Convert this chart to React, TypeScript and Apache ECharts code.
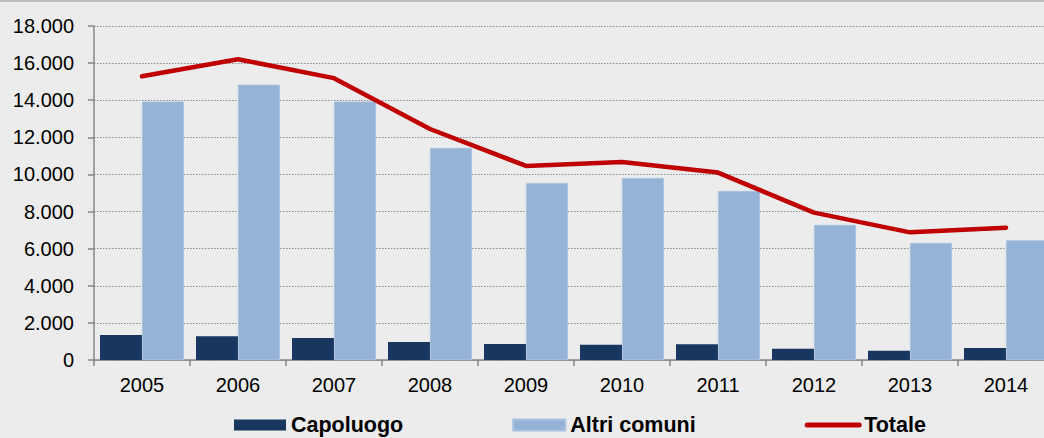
import React, { useEffect, useRef } from "react";
import * as echarts from "echarts";

const years = ["2005", "2006", "2007", "2008", "2009", "2010", "2011", "2012", "2013", "2014"];
const capoluogo = [1350, 1280, 1190, 970, 860, 825, 850, 610, 500, 650];
const altriComuni = [13930, 14840, 13930, 11430, 9540, 9810, 9110, 7280, 6310, 6450];
const totale = [15290, 16210, 15190, 12450, 10460, 10670, 10100, 7940, 6880, 7130];
const yTicks = { min: 0, max: 18000, interval: 2000 };

const FONT = "'Liberation Sans', Arial, sans-serif";

export default function App() {
  const ref = useRef<HTMLDivElement>(null);
  useEffect(() => {
    if (!ref.current) return;
    const chart = echarts.init(ref.current, undefined, { renderer: "svg" });
    chart.setOption({
      animation: false,
      backgroundColor: "#ececec",
      textStyle: { fontFamily: FONT },
      graphic: [
        {
          type: "rect",
          shape: { x: 0, y: 0, width: 1070, height: 2 },
          style: { fill: "#bcbcbc" },
          silent: true,
        },
      ],
      grid: { left: 94, right: 6, top: 26, bottom: 78, containLabel: false },
      legend: {
        left: 234,
        top: 414,
        padding: 0,
        itemGap: 109,
        itemWidth: 52,
        itemHeight: 11,
        textStyle: { fontFamily: FONT, fontSize: 21.5, fontWeight: "bold", color: "#000" },
        data: [
          { name: "Capoluogo", icon: "rect" },
          { name: "Altri comuni", icon: "rect" },
          {
            name: "Totale",
            itemStyle: { color: "rgba(0,0,0,0)", borderWidth: 0, opacity: 0 },
            lineStyle: { color: "#c00000", width: 5, cap: "round" },
          },
        ],
      },
      xAxis: {
        type: "category",
        data: years,
        boundaryGap: true,
        axisLine: { lineStyle: { color: "#878787", width: 1.5 } },
        axisTick: { show: true, length: 6, alignWithLabel: false, lineStyle: { color: "#878787", width: 1.5 } },
        axisLabel: { fontFamily: FONT, fontSize: 20, color: "#000", margin: 15 },
        splitLine: { show: false },
      },
      yAxis: {
        type: "value",
        min: yTicks.min,
        max: yTicks.max,
        interval: yTicks.interval,
        axisLine: { show: true, lineStyle: { color: "#878787", width: 1.5 } },
        axisTick: { show: true, length: 6, lineStyle: { color: "#878787", width: 1.5 } },
        axisLabel: {
          fontFamily: FONT,
          fontSize: 20,
          color: "#000",
          margin: 20,
          formatter: (v: number) => v.toLocaleString("de-DE"),
        },
        splitLine: { show: true, lineStyle: { color: "#8c8c8c", width: 1.2, type: [1.5, 1.5] } },
      },
      series: [
        {
          name: "Capoluogo",
          type: "bar",
          data: capoluogo,
          barWidth: 42,
          barGap: "0%",
          itemStyle: { color: "#17375e" },
        },
        {
          name: "Altri comuni",
          type: "bar",
          data: altriComuni,
          barWidth: 42,
          barGap: "0%",
          itemStyle: { color: "#95b3d7", borderColor: "#a9c1df", borderWidth: 0.8 },
        },
        {
          name: "Totale",
          type: "line",
          data: totale,
          symbol: "none",
          lineStyle: { color: "#c00000", width: 4.5, cap: "round", join: "round" },
          itemStyle: { color: "#c00000" },
        },
      ],
    });
    return () => chart.dispose();
  }, []);
  return (
    <div style={{ position: "absolute", left: 0, top: 0, width: 1044, height: 438, overflow: "hidden" }}>
      <div ref={ref} style={{ width: 1060, height: 438 }} />
    </div>
  );
}
